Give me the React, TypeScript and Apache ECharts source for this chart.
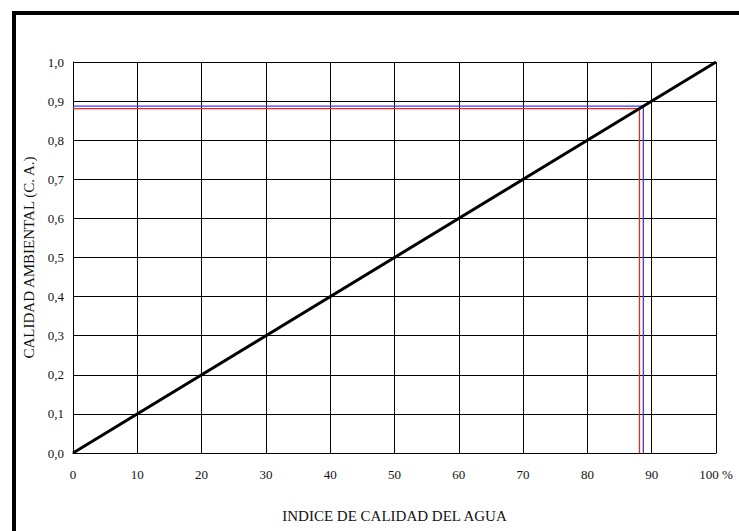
import React, { useEffect, useRef } from "react";
import * as echarts from "echarts";

const diagonal: number[][] = [[0, 0], [100, 1]];
const redX = 88.1;
const redY = 0.881;
const blueX = 88.7;
const blueY = 0.887;
const redPath: number[][] = [[0, redY], [redX, redY], [redX, 0]];
const bluePath: number[][] = [[0, blueY], [blueX, blueY], [blueX, 0]];
const xName = "INDICE DE CALIDAD DEL AGUA";
const yName = "CALIDAD AMBIENTAL (C. A.)";

const FONT = "'Liberation Serif', 'Times New Roman', serif";

export default function App() {
  const ref = useRef<HTMLDivElement>(null);
  useEffect(() => {
    if (!ref.current) return;
    const chart = echarts.init(ref.current, null, { renderer: "svg" });
    chart.setOption({
      animation: false,
      backgroundColor: "#fff",
      grid: { left: 73, right: 23, top: 62, bottom: 78, containLabel: false },
      xAxis: {
        type: "value",
        min: 0,
        max: 100,
        interval: 10,
        name: xName,
        nameLocation: "middle",
        nameGap: 55,
        nameTextStyle: { fontFamily: FONT, fontSize: 15, color: "#111" },
        axisLine: { show: true, onZero: false, lineStyle: { color: "#000", width: 1 } },
        axisTick: { show: false },
        axisLabel: {
          fontFamily: FONT,
          fontSize: 13,
          color: "#111",
          margin: 15,
          formatter: (v: number) => (v === 100 ? "100 %" : String(v)),
        },
        splitLine: { show: true, lineStyle: { color: "#000", width: 1 } },
      },
      yAxis: {
        type: "value",
        min: 0,
        max: 1,
        interval: 0.1,
        name: yName,
        nameLocation: "middle",
        nameGap: 36,
        nameTextStyle: { fontFamily: FONT, fontSize: 15, color: "#111" },
        axisLine: { show: true, onZero: false, lineStyle: { color: "#000", width: 1 } },
        axisTick: { show: false },
        axisLabel: {
          fontFamily: FONT,
          fontSize: 13,
          color: "#111",
          margin: 9,
          formatter: (v: number) => v.toFixed(1).replace(".", ","),
        },
        splitLine: { show: true, lineStyle: { color: "#000", width: 1 } },
      },
      graphic: [
        {
          type: "line",
          shape: { x1: 14, y1: 13, x2: 739, y2: 13 },
          style: { stroke: "#000", lineWidth: 4 },
        },
        {
          type: "line",
          shape: { x1: 14, y1: 11, x2: 14, y2: 531 },
          style: { stroke: "#000", lineWidth: 4 },
        },
      ],
      series: [
        {
          type: "line",
          data: bluePath,
          symbol: "none",
          lineStyle: { color: "#3a3aff", width: 1.3 },
          z: 3,
        },
        {
          type: "line",
          data: redPath,
          symbol: "none",
          lineStyle: { color: "#ff2020", width: 1.3 },
          z: 3,
        },
        {
          type: "line",
          data: diagonal,
          symbol: "none",
          lineStyle: { color: "#000", width: 3 },
          z: 4,
        },
      ],
    });
    return () => chart.dispose();
  }, []);
  return (
    <div
      ref={ref}
      style={{ position: "fixed", left: 0, top: 0, width: 739, height: 531, background: "#fff" }}
    />
  );
}
